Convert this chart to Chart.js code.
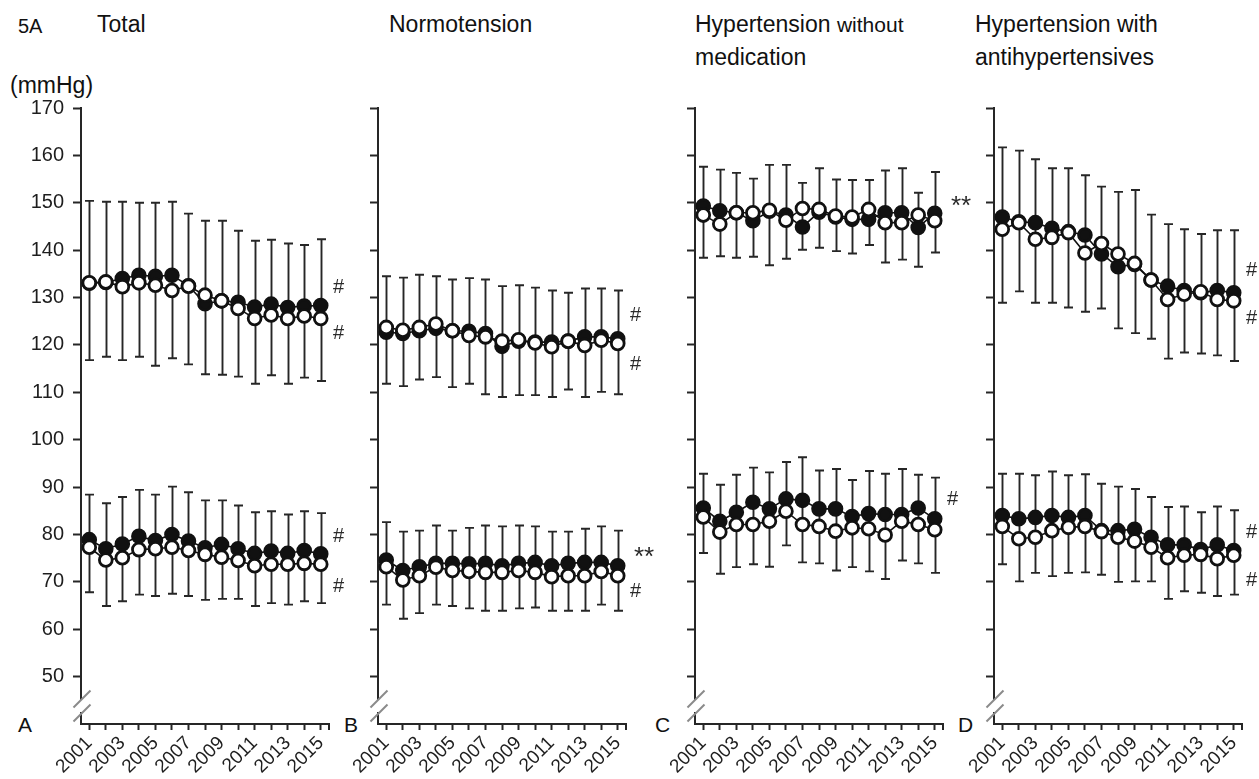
<!DOCTYPE html>
<html>
<head>
<meta charset="utf-8">
<script src="https://cdn.jsdelivr.net/npm/chart.js@4"></script>
<style>
  body { margin: 0; background: #fff; width: 1259px; height: 779px; overflow: hidden; position: relative;
         font-family: "Liberation Sans", Arial, sans-serif; color: #111; }
  canvas { position: absolute; top: 0; }
  .t { position: absolute; white-space: nowrap; line-height: 1; }
  .h { font-size: 23px; }
  .small { font-size: 21px; }
</style>
</head>
<body>
<div class="t" style="left:18px;top:16px;font-size:20px">5A</div>
<div class="t h" style="left:97px;top:13px">Total</div>
<div class="t h" style="left:389px;top:13px">Normotension</div>
<div class="t h" style="left:695px;top:13px">Hypertension <span class="small">without</span></div>
<div class="t h" style="left:695px;top:46px">medication</div>
<div class="t h" style="left:975px;top:13px">Hypertension with</div>
<div class="t h" style="left:975px;top:46px">antihypertensives</div>
<div class="t h" style="left:10px;top:74px">(mmHg)</div>
<div class="t" style="left:18px;top:714px;font-size:21px">A</div>
<div class="t" style="left:344px;top:714px;font-size:21px">B</div>
<div class="t" style="left:655px;top:714px;font-size:21px">C</div>
<div class="t" style="left:958px;top:714px;font-size:21px">D</div>

<canvas id="pA" width="359" height="779" style="left:0px"></canvas>
<canvas id="pB" width="359" height="779" style="left:297px"></canvas>
<canvas id="pC" width="359" height="779" style="left:614px"></canvas>
<canvas id="pD" width="359" height="779" style="left:913px"></canvas>

<script>
const years = ['2001', '2002', '2003', '2004', '2005', '2006', '2007', '2008',
               '2009', '2010', '2011', '2012', '2013', '2014', '2015'];

// A: total
const totalSbpClosed = [133.0, 133.2, 134.0, 134.7, 134.5, 134.7, 132.5, 128.7, 129.3, 129.0, 128.0, 128.6, 127.9, 128.2, 128.3];
const totalSbpOpen   = [133.1, 133.3, 132.3, 133.1, 132.6, 131.5, 132.4, 130.5, 129.3, 127.7, 125.6, 126.3, 125.6, 126.1, 125.6];
const totalSbpHigh   = [150.4, 150.2, 150.2, 150.0, 150.0, 150.2, 147.7, 146.2, 146.2, 144.1, 142.0, 142.2, 141.4, 141.1, 142.3];
const totalSbpLow    = [116.8, 117.5, 116.8, 117.5, 115.6, 117.2, 115.9, 113.8, 113.7, 113.3, 111.8, 113.6, 111.8, 113.1, 112.4];
const totalDbpClosed = [78.9, 77.0, 78.0, 79.6, 78.7, 80.0, 78.6, 77.2, 77.9, 77.0, 76.0, 76.5, 76.0, 76.6, 75.9];
const totalDbpOpen   = [77.3, 74.6, 75.1, 76.8, 77.0, 77.3, 76.6, 75.8, 75.2, 74.5, 73.4, 73.7, 73.7, 73.9, 73.7];
const totalDbpHigh   = [88.4, 86.6, 87.9, 89.4, 88.4, 90.1, 88.9, 87.2, 87.2, 86.1, 84.7, 84.9, 84.2, 84.9, 84.5];
const totalDbpLow    = [67.8, 64.9, 65.9, 67.3, 67.0, 67.5, 67.0, 66.2, 66.4, 66.4, 64.9, 65.5, 65.2, 65.9, 65.5];
const totalMarks     = [['#', 132.5], ['#', 122.7], ['#', 79.8], ['#', 69.4]];

// B: normotension
const normoSbpClosed = [122.7, 122.4, 123.0, 123.5, 123.0, 122.9, 122.4, 119.7, 120.8, 120.6, 120.6, 120.8, 121.7, 121.7, 121.3];
const normoSbpOpen   = [123.7, 123.1, 123.7, 124.4, 123.0, 122.0, 121.7, 120.8, 121.1, 120.4, 119.6, 120.8, 119.9, 121.0, 120.3];
const normoSbpHigh   = [134.5, 134.2, 134.8, 134.5, 133.8, 134.1, 133.8, 132.4, 132.6, 132.1, 131.5, 131.0, 131.9, 131.9, 131.5];
const normoSbpLow    = [111.8, 111.3, 112.7, 113.2, 111.1, 111.8, 109.6, 109.0, 109.4, 109.4, 109.0, 110.6, 109.0, 110.1, 109.6];
const normoDbpClosed = [74.6, 72.4, 73.2, 73.9, 73.9, 73.8, 73.9, 73.4, 73.9, 74.1, 73.4, 73.9, 74.1, 74.1, 73.4];
const normoDbpOpen   = [73.2, 70.4, 71.3, 73.1, 72.4, 72.2, 72.0, 72.0, 72.4, 72.0, 71.1, 71.3, 71.3, 72.2, 71.3];
const normoDbpHigh   = [82.6, 80.6, 80.8, 81.9, 80.8, 81.4, 81.9, 81.7, 81.9, 81.7, 80.6, 80.6, 81.2, 81.7, 80.8];
const normoDbpLow    = [65.2, 62.2, 63.4, 65.2, 64.9, 64.4, 63.9, 63.9, 64.4, 64.6, 63.9, 63.9, 63.9, 65.2, 63.9];
const normoMarks     = [['#', 126.6], ['#', 116.1], ['**', 76.8], ['#', 68.3]];

// C: hypertension without medication
const untreatedSbpClosed = [149.3, 148.3, 147.9, 146.2, 148.2, 147.4, 144.9, 148.0, 147.0, 146.5, 146.5, 147.9, 147.9, 144.8, 147.8];
const untreatedSbpOpen   = [147.4, 145.5, 147.9, 147.9, 148.4, 146.3, 148.8, 148.6, 147.2, 147.0, 148.6, 145.8, 145.8, 147.4, 146.2];
const untreatedSbpHigh   = [157.6, 157.0, 156.3, 155.1, 158.0, 158.0, 154.2, 157.3, 154.9, 154.8, 154.8, 156.8, 157.3, 152.1, 156.5];
const untreatedSbpLow    = [138.4, 138.7, 138.4, 138.6, 136.8, 138.2, 140.1, 140.5, 139.8, 139.3, 141.1, 137.4, 138.0, 136.5, 139.5];
const untreatedDbpClosed = [85.6, 82.8, 84.7, 86.8, 85.4, 87.5, 87.2, 85.4, 85.4, 83.8, 84.4, 84.2, 84.2, 85.6, 83.3];
const untreatedDbpOpen   = [83.7, 80.5, 82.1, 82.1, 82.8, 84.9, 82.1, 81.7, 80.7, 81.4, 81.2, 79.9, 82.8, 82.1, 81.0];
const untreatedDbpHigh   = [92.8, 90.5, 92.6, 94.1, 93.1, 95.3, 96.3, 93.5, 93.8, 91.5, 93.4, 92.8, 93.8, 92.6, 92.0];
const untreatedDbpLow    = [76.1, 71.7, 73.1, 73.7, 73.2, 77.7, 74.1, 73.9, 72.4, 73.1, 72.2, 70.6, 74.5, 73.9, 71.9];
const untreatedMarks     = [['**', 150.9], ['#', 87.7]];

// D: hypertension with antihypertensives
const treatedSbpClosed = [147.0, 146.0, 145.8, 144.6, 143.9, 143.2, 139.2, 136.5, 137.0, 133.7, 132.4, 131.5, 131.0, 131.5, 131.0];
const treatedSbpOpen   = [144.4, 145.8, 142.3, 142.7, 143.7, 139.4, 141.4, 139.2, 137.2, 133.7, 129.6, 130.7, 131.2, 129.6, 129.3];
const treatedSbpHigh   = [161.7, 161.0, 159.2, 157.3, 157.3, 155.8, 153.4, 152.3, 152.7, 147.5, 145.5, 144.4, 143.4, 144.2, 144.2];
const treatedSbpLow    = [128.9, 131.3, 128.9, 128.9, 127.9, 127.0, 127.7, 123.5, 122.5, 121.3, 117.1, 118.4, 118.2, 117.8, 116.6];
const treatedDbpClosed = [84.0, 83.3, 83.6, 84.0, 83.6, 84.0, 80.8, 80.8, 81.1, 79.4, 77.8, 77.8, 76.8, 77.8, 76.6];
const treatedDbpOpen   = [81.7, 79.1, 79.4, 80.8, 81.5, 81.7, 80.6, 79.4, 78.6, 77.3, 75.1, 75.6, 75.8, 74.9, 75.6];
const treatedDbpHigh   = [92.8, 92.8, 92.5, 93.3, 92.5, 92.7, 90.7, 90.1, 89.6, 87.9, 85.8, 85.9, 84.7, 85.9, 85.1];
const treatedDbpLow    = [73.7, 70.1, 71.9, 71.2, 71.9, 72.0, 71.5, 70.0, 70.1, 70.1, 66.4, 68.0, 67.7, 67.0, 67.3];
const treatedMarks     = [['#', 136.1], ['#', 125.9], ['#', 80.8], ['#', 70.6]];

const yMin = 40, yMax = 170, yStep = 10;
const INK = '#262626';
const FONT = '"Liberation Sans", Arial, sans-serif';

// vertical SD bars with caps, drawn under the markers
const errorBars = {
  id: 'errorBars',
  beforeDatasetsDraw(chart, args, opts) {
    const { ctx, scales: { x, y } } = chart;
    ctx.save();
    ctx.strokeStyle = INK;
    ctx.lineWidth = 1.9;
    opts.bars.forEach(([hi, lo]) => {
      hi.forEach((v, i) => {
        const px = Math.round(x.getPixelForValue(i)) + 0.5;
        const top = y.getPixelForValue(v);
        const bot = y.getPixelForValue(lo[i]);
        ctx.beginPath();
        ctx.moveTo(px, top); ctx.lineTo(px, bot);
        ctx.moveTo(px - 4.5, top); ctx.lineTo(px + 4.5, top);
        ctx.moveTo(px - 4.5, bot); ctx.lineTo(px + 4.5, bot);
        ctx.stroke();
      });
    });
    ctx.restore();
  }
};

// significance marks right of the last year, axis break and end tick
const decorations = {
  id: 'decorations',
  afterDraw(chart, args, opts) {
    const { ctx, chartArea: a, scales: { y } } = chart;
    ctx.save();
    ctx.fillStyle = '#2a2a2a';
    ctx.textAlign = 'left';
    ctx.textBaseline = 'alphabetic';
    opts.marks.forEach(([txt, v]) => {
      const py = y.getPixelForValue(v);
      if (txt.includes('*')) {
        ctx.font = '26px ' + FONT;
        ctx.fillText(txt, a.right + 8, py + 15);
      } else {
        ctx.font = '20px ' + FONT;
        ctx.fillText(txt, a.right + 4, py + 7);
      }
    });

    // y-axis break
    const bx = a.left + 1;
    ctx.fillStyle = '#fff';
    ctx.fillRect(bx - 2, 700, 4, 12);
    ctx.strokeStyle = '#8a8a8a';
    ctx.lineWidth = 2;
    [699, 713].forEach(c => {
      ctx.beginPath();
      ctx.moveTo(bx - 8.5, c + 8.5);
      ctx.lineTo(bx + 8.5, c - 8.5);
      ctx.stroke();
    });

    // closing tick at the right end of the x axis
    ctx.strokeStyle = INK;
    ctx.beginPath();
    ctx.moveTo(a.right, a.bottom);
    ctx.lineTo(a.right, a.bottom + 6);
    ctx.stroke();
    ctx.restore();
  }
};

function line(data, filled) {
  return {
    data,
    borderColor: '#111',
    borderWidth: 1.6,
    pointRadius: 6.4,
    pointBorderWidth: 2.8,
    pointBorderColor: '#111',
    pointBackgroundColor: filled ? '#111' : '#fff',
    tension: 0,
    fill: false
  };
}

function makePanel(id, showLabels, sbp, dbp, marks) {
  new Chart(document.getElementById(id), {
    type: 'line',
    data: {
      labels: years,
      // open circles first so they sit on top of the filled ones
      datasets: [
        line(sbp.open, false),
        line(dbp.open, false),
        line(sbp.closed, true),
        line(dbp.closed, true)
      ]
    },
    options: {
      responsive: false,
      animation: false,
      layout: { padding: { top: 108, bottom: 0, left: 0, right: 30 } },
      plugins: {
        legend: { display: false },
        tooltip: { enabled: false },
        errorBars: { bars: [[sbp.high, sbp.low], [dbp.high, dbp.low]] },
        decorations: { marks }
      },
      scales: {
        x: {
          type: 'category',
          offset: true,
          afterFit: s => { s.height = 55; },
          border: { display: true, color: INK, width: 2 },
          grid: { drawOnChartArea: false, drawTicks: true, tickLength: 6, tickWidth: 2, tickColor: INK, offset: false },
          ticks: {
            autoSkip: false,
            minRotation: 45,
            maxRotation: 45,
            padding: 2,
            color: '#1e1e1e',
            font: { family: FONT, size: 19 },
            callback: (v, i) => (i % 2 === 0 ? years[i] : '')
          }
        },
        y: {
          min: yMin,
          max: yMax,
          afterFit: s => { s.width = 81; },
          afterBuildTicks: s => { s.ticks = s.ticks.filter(t => t.value > yMin); },
          border: { display: true, color: INK, width: 2 },
          grid: { drawOnChartArea: false, drawTicks: true, tickLength: 8, tickWidth: 2, tickColor: INK },
          ticks: {
            display: showLabels,
            stepSize: yStep,
            padding: 9,
            color: '#1e1e1e',
            font: { family: FONT, size: 20 }
          }
        }
      }
    },
    plugins: [errorBars, decorations]
  });
}

makePanel('pA', true,
  { closed: totalSbpClosed, open: totalSbpOpen, high: totalSbpHigh, low: totalSbpLow },
  { closed: totalDbpClosed, open: totalDbpOpen, high: totalDbpHigh, low: totalDbpLow },
  totalMarks);
makePanel('pB', false,
  { closed: normoSbpClosed, open: normoSbpOpen, high: normoSbpHigh, low: normoSbpLow },
  { closed: normoDbpClosed, open: normoDbpOpen, high: normoDbpHigh, low: normoDbpLow },
  normoMarks);
makePanel('pC', false,
  { closed: untreatedSbpClosed, open: untreatedSbpOpen, high: untreatedSbpHigh, low: untreatedSbpLow },
  { closed: untreatedDbpClosed, open: untreatedDbpOpen, high: untreatedDbpHigh, low: untreatedDbpLow },
  untreatedMarks);
makePanel('pD', false,
  { closed: treatedSbpClosed, open: treatedSbpOpen, high: treatedSbpHigh, low: treatedSbpLow },
  { closed: treatedDbpClosed, open: treatedDbpOpen, high: treatedDbpHigh, low: treatedDbpLow },
  treatedMarks);
</script>
</body>
</html>
